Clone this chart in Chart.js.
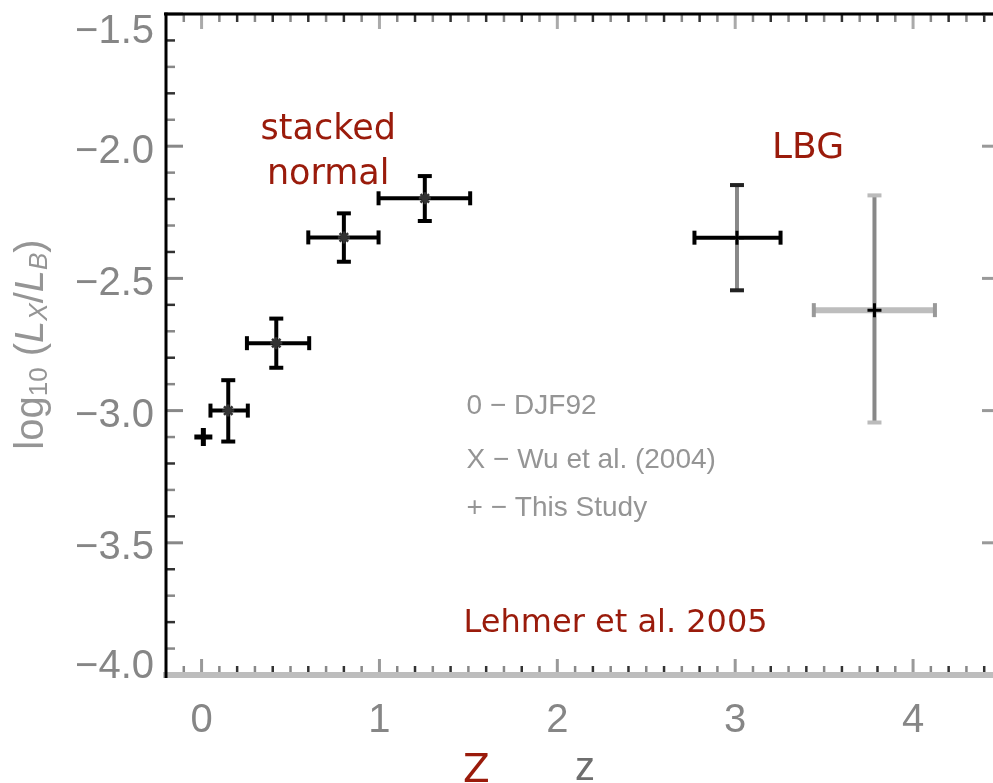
<!DOCTYPE html>
<html>
<head>
<meta charset="utf-8">
<script src="https://cdn.jsdelivr.net/npm/chart.js@4.4.1/dist/chart.umd.min.js"></script>
<style>
  html, body { margin: 0; padding: 0; background: #fff; overflow: hidden; }
  #wrap { width: 1016px; height: 783px; }
</style>
</head>
<body>
<div id="wrap"><canvas id="lx" width="1016" height="783"></canvas></div>
<script>
// This study (stacked normal galaxies)
const zThis = [0.01, 0.15, 0.42, 0.80, 1.255];
const logThis = [-3.10, -3.00, -2.745, -2.345, -2.197];
const zThisLo = [0.01, 0.05, 0.255, 0.60, 0.995];
const zThisHi = [0.01, 0.26, 0.605, 0.995, 1.51];
const logThisLo = [-3.10, -3.117, -2.838, -2.437, -2.283];
const logThisHi = [-3.10, -2.885, -2.652, -2.254, -2.113];

// LBG points
const zLbg = [3.01, 3.783];
const logLbg = [-2.346, -2.62];
const zLbgLo = [2.771, 3.442];
const zLbgHi = [3.255, 4.123];
const logLbgLo = [-2.545, -3.045];
const logLbgHi = [-2.147, -2.186];

const xTickLabels = [0, 1, 2, 3, 4];
const yTickLabels = [-4.0, -3.5, -3.0, -2.5, -2.0, -1.5];
const legendLines = ['0 \u2212 DJF92', 'X \u2212 Wu et al. (2004)', '+ \u2212 This Study'];

const RED = '#9a1b0b';
const GREY = '#868686';

const pts = (xs, ys, xlo, xhi, ylo, yhi) =>
  xs.map((v, i) => ({ x: v, y: ys[i], xlo: xlo[i], xhi: xhi[i], ylo: ylo[i], yhi: yhi[i] }));

const line = (ctx, x1, y1, x2, y2, w, c) => {
  ctx.beginPath();
  ctx.moveTo(x1, y1);
  ctx.lineTo(x2, y2);
  ctx.lineWidth = w;
  ctx.strokeStyle = c;
  ctx.stroke();
};

const text = (ctx, s, px, py, font, color, align) => {
  ctx.font = font;
  ctx.fillStyle = color;
  ctx.textAlign = align || 'left';
  ctx.textBaseline = 'alphabetic';
  ctx.fillText(s, px, py);
};

// error bar looks, one per point
const barLook = {
  0: i => ({ h: '#000', hw: 4, v: '#000', vw: 4, hc: '#000', vc: '#000' }),
  1: i => i === 0
    ? { h: '#000', hw: 4, v: '#888', vw: 4, hc: '#000', vc: '#222' }
    : { h: '#bdbdbd', hw: 6, v: '#888', vw: 4, hc: '#999', vc: '#bbb' }
};

const axesAndBars = {
  id: 'axesAndBars',
  beforeDatasetsDraw(chart) {
    const { ctx, scales: { x, y } } = chart;
    const L = x.left, R = x.right, T = y.top, B = y.bottom;
    ctx.save();
    ctx.lineCap = 'butt';
    // minor ticks, every 0.1
    for (let i = -1; i <= 45; i++) {
      if (i % 10 === 0) continue;
      const px = x.getPixelForValue(i / 10);
      const c = i % 2 ? '#888' : '#333';
      line(ctx, px, B - 2, px, B - 9, 2.5, c);
      line(ctx, px, T + 1, px, T + 8, 2.5, c);
    }
    for (let i = -39; i <= -16; i++) {
      if (i % 5 === 0) continue;
      const py = y.getPixelForValue(i / 10);
      const c = i % 2 ? '#888' : '#333';
      line(ctx, L + 1, py, L + 9, py, 2.5, c);
      line(ctx, R - 1, py, R - 9, py, 2.5, c);
    }
    xTickLabels.forEach(v => {
      const px = x.getPixelForValue(v);
      line(ctx, px, B - 2, px, B - 16, 3, '#999');
      line(ctx, px, T + 1, px, T + 15, 3, '#aaa');
    });
    yTickLabels.forEach(v => {
      const py = y.getPixelForValue(v);
      line(ctx, L + 1, py, L + 17, py, 3, '#888');
      line(ctx, R - 1, py, R - 20, py, 3, '#999');
    });
    // frame
    line(ctx, L - 3, B, R + 3, B, 6, '#bdbdbd');
    line(ctx, L - 2, T, R + 2, T, 3, '#000');
    line(ctx, L, T - 1.5, L, B + 3, 3, '#000');
    line(ctx, R, T - 1.5, R, B, 3, '#000');

    // error bars
    chart.data.datasets.forEach((ds, di) => {
      ds.data.forEach((p, i) => {
        const st = barLook[di](i);
        const cx = x.getPixelForValue(p.x), cy = y.getPixelForValue(p.y);
        if (p.xhi > p.xlo) {
          const a = x.getPixelForValue(p.xlo), b = x.getPixelForValue(p.xhi);
          line(ctx, a, cy, b, cy, st.hw, st.h);
          line(ctx, a, cy - 7, a, cy + 7, 4, st.hc);
          line(ctx, b, cy - 7, b, cy + 7, 4, st.hc);
        }
        if (p.yhi > p.ylo) {
          const a = y.getPixelForValue(p.ylo), b = y.getPixelForValue(p.yhi);
          line(ctx, cx, a, cx, b, st.vw, st.v);
          line(ctx, cx - 7, a, cx + 7, a, 4, st.vc);
          line(ctx, cx - 7, b, cx + 7, b, 4, st.vc);
        }
      });
    });
    ctx.restore();
  },
  afterDraw(chart) {
    const { ctx, scales: { x, y } } = chart;
    ctx.save();
    // tick labels
    yTickLabels.forEach(v => {
      const py = y.getPixelForValue(v);
      const cy = Math.min(Math.max(py + 2, y.top + 14), y.bottom - 12);
      text(ctx, v.toFixed(1).replace('-', '\u2212'), x.left - 12, cy + 14.5, '40px "Liberation Sans"', GREY, 'right');
    });
    xTickLabels.forEach(v => {
      text(ctx, String(v), x.getPixelForValue(v), 732, '40px "Liberation Sans"', GREY, 'center');
    });
    // axis titles
    text(ctx, 'z', (x.left + x.right) / 2 + 1, 780, '40px "Liberation Sans"', '#6e6e6e', 'center');
    ctx.save();
    ctx.translate(43, (y.top + y.bottom) / 2);
    ctx.rotate(-Math.PI / 2);
    const parts = [
      ['log', '40px "Liberation Sans"', 0],
      ['10', '26px "Liberation Sans"', 4],
      [' (', '40px "Liberation Sans"', 0],
      ['L', 'italic 40px "Liberation Sans"', 0],
      ['X', 'italic 26px "Liberation Sans"', 4],
      ['/', '40px "Liberation Sans"', 0],
      ['L', 'italic 40px "Liberation Sans"', 0],
      ['B', 'italic 26px "Liberation Sans"', 4],
      [')', '40px "Liberation Sans"', 0]
    ];
    let total = 0;
    parts.forEach(([s, f]) => { ctx.font = f; total += ctx.measureText(s).width; });
    let px = -total / 2;
    parts.forEach(([s, f, dy]) => {
      text(ctx, s, px, dy, f, '#959595');
      ctx.font = f;
      px += ctx.measureText(s).width;
    });
    ctx.restore();

    // legend text
    const lb = [-3.012, -3.217, -3.398];
    legendLines.forEach((s, i) => {
      text(ctx, s, x.getPixelForValue(1.49), y.getPixelForValue(lb[i]), '28px "Liberation Sans"', '#959595');
    });

    // red notes
    text(ctx, 'stacked', x.getPixelForValue(0.712), y.getPixelForValue(-1.974), '35px "DejaVu Sans"', RED, 'center');
    text(ctx, 'normal', x.getPixelForValue(0.712), y.getPixelForValue(-2.144), '35px "DejaVu Sans"', RED, 'center');
    text(ctx, 'LBG', x.getPixelForValue(3.207), y.getPixelForValue(-2.045), '36px "DejaVu Sans"', RED);
    text(ctx, 'Lehmer et al. 2005', x.getPixelForValue(1.473), y.getPixelForValue(-3.839), '32px "DejaVu Sans"', RED);
    text(ctx, 'Z', 463, 782, '39px "DejaVu Sans"', RED);
    ctx.restore();
  }
};

new Chart(document.getElementById('lx'), {
  type: 'scatter',
  data: {
    datasets: [
      {
        label: 'This Study',
        data: pts(zThis, logThis, zThisLo, zThisHi, logThisLo, logThisHi),
        pointStyle: ['cross', 'star', 'star', 'star', 'star'],
        pointRadius: [9, 6, 6, 6, 6],
        pointBorderWidth: [5, 2.5, 2.5, 2.5, 2.5],
        pointBorderColor: ['#000', '#333', '#333', '#333', '#333'],
        pointBackgroundColor: '#000'
      },
      {
        label: 'LBG',
        data: pts(zLbg, logLbg, zLbgLo, zLbgHi, logLbgLo, logLbgHi),
        pointStyle: 'cross',
        pointRadius: 7,
        pointBorderWidth: 3,
        pointBorderColor: '#000',
        pointBackgroundColor: '#000'
      }
    ]
  },
  options: {
    responsive: false,
    devicePixelRatio: 1,
    animation: false,
    layout: { padding: { top: 12.6, right: 10, left: 0, bottom: 0 } },
    plugins: { legend: { display: false }, tooltip: { enabled: false } },
    scales: {
      x: {
        type: 'linear', min: -0.2, max: 4.5,
        grid: { display: false }, border: { display: false }, ticks: { display: false },
        afterFit: s => { s.height = 108; }
      },
      y: {
        type: 'linear', min: -4.0, max: -1.5,
        grid: { display: false }, border: { display: false }, ticks: { display: false },
        afterFit: s => { s.width = 166; }
      }
    }
  },
  plugins: [axesAndBars]
});
</script>
</body>
</html>
